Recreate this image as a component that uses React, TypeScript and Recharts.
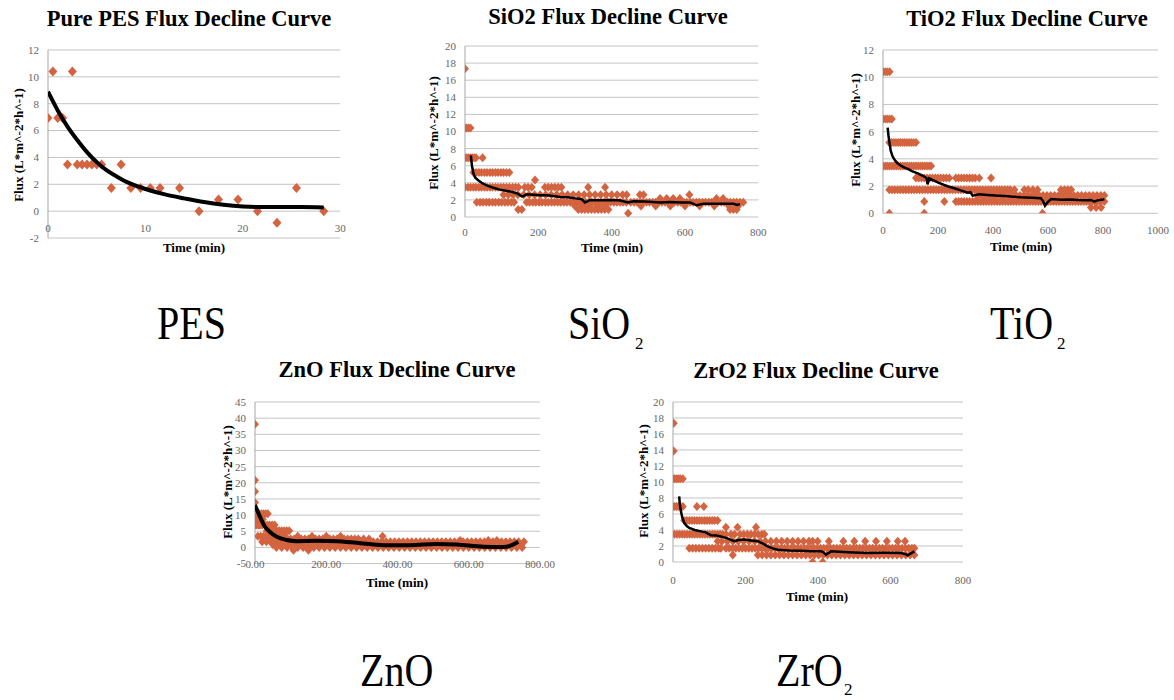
import { ScatterChart, Scatter, XAxis, YAxis, CartesianGrid } from 'recharts';

const DOT = '#d4633f';
const SERIF = '"Liberation Serif", "Times New Roman", serif';

type Band = { flux: number; times: number[] };

// ---------- Pure PES ----------
const pesTime = [0, 0.5, 1, 1.5, 2, 2.5, 3, 3.5, 4, 4.5, 5, 5.5, 6.5, 7.5, 8.5, 9.5, 10.5, 11.5, 13.5, 15.5, 17.5, 19.5, 21.5, 23.5, 25.5, 28.3];
const pesFlux = [6.93, 10.4, 6.93, 6.93, 3.47, 10.4, 3.47, 3.47, 3.47, 3.47, 3.47, 3.47, 1.73, 3.47, 1.73, 1.73, 1.73, 1.73, 1.73, 0, 0.87, 0.87, 0, -0.87, 1.73, 0];
const pesFitTime = [0, 1, 2, 3, 4, 5, 6, 7, 8, 9, 10, 12, 14, 16, 18, 20, 22, 24, 26, 28.3];
const pesFitFlux = [8.9, 7.5, 6.3, 5.3, 4.4, 3.65, 3.05, 2.6, 2.2, 1.9, 1.65, 1.25, 0.95, 0.68, 0.48, 0.35, 0.3, 0.3, 0.3, 0.28];
const pesXTicks = [0, 10, 20, 30];
const pesYTicks = [-2, 0, 2, 4, 6, 8, 10, 12];

// ---------- SiO2 ----------
const sio2Bands: Band[] = [
  { flux: 17.33, times: [0] },
  { flux: 10.4, times: [0, 5, 10, 15] },
  { flux: 6.93, times: [0, 5, 10, 15, 20, 25, 30, 48] },
  { flux: 5.2, times: [23, 30, 38, 45, 53, 60, 68, 75, 83, 90, 98, 105, 113, 121] },
  { flux: 4.33, times: [191] },
  { flux: 3.47, times: [0, 8, 15, 23, 30, 38, 45, 53, 60, 68, 75, 83, 90, 98, 105, 113, 121, 130, 138, 146, 163, 172, 182, 218, 227, 236, 245, 254, 263, 336, 382] },
  { flux: 2.6, times: [105, 118, 131, 144, 160, 175, 190, 205, 220, 235, 250, 265, 280, 295, 310, 325, 340, 355, 370, 385, 400, 415, 430, 441, 477, 487, 612] },
  { flux: 2.17, times: [532, 550, 568, 586, 686, 704] },
  { flux: 1.73, times: [32, 41, 49, 58, 66, 75, 83, 92, 100, 109, 117, 126, 134, 168, 176, 185, 193, 202, 210, 219, 227, 236, 244, 253, 261, 270, 278, 287, 295, 304, 312, 321, 329, 338, 346, 355, 363, 372, 380, 389, 397, 406, 414, 423, 431, 440, 452, 461, 469, 478, 486, 495, 503, 512, 520, 529, 537, 546, 554, 563, 571, 580, 588, 597, 605, 614, 622, 631, 639, 648, 656, 665, 673, 682, 690, 699, 707, 716, 724, 733, 741, 750, 759] },
  { flux: 1.3, times: [300, 320, 340, 360, 380, 480, 520, 560, 600, 640, 680, 720, 745] },
  { flux: 0.87, times: [145, 155, 309, 318, 327, 336, 345, 354, 363, 372, 381, 391, 723, 732, 741] },
  { flux: 0.43, times: [445] },
];
const sio2FitTime = [16, 19, 23, 28, 36, 47, 59, 75, 95, 115, 132, 145, 155, 160, 168, 185, 205, 223, 240, 259, 280, 305, 318, 327, 335, 341, 370, 395, 420, 445, 459, 490, 532, 560, 590, 614, 632, 650, 690, 732, 742, 750];
const sio2FitFlux = [7.2, 6.0, 5.1, 4.6, 4.3, 3.95, 3.7, 3.45, 3.2, 3.05, 2.9, 2.7, 2.4, 2.45, 2.65, 2.6, 2.55, 2.55, 2.45, 2.35, 2.3, 2.15, 2.1, 1.7, 1.85, 2.0, 1.95, 2.0, 1.95, 1.7, 1.85, 1.8, 1.7, 1.75, 1.7, 1.7, 1.37, 1.55, 1.55, 1.55, 1.4, 1.5];

// ---------- TiO2 ----------
const tio2Bands: Band[] = [
  { flux: 10.4, times: [0, 8, 16, 24] },
  { flux: 6.93, times: [0, 8, 16, 24, 32] },
  { flux: 5.2, times: [23, 31, 39, 47, 55, 63, 71, 79, 87, 95, 103, 111, 120] },
  { flux: 3.47, times: [0, 8, 16, 24, 32, 40, 48, 56, 64, 72, 80, 88, 96, 104, 112, 120, 128, 136, 144, 152, 160, 168, 175] },
  { flux: 2.6, times: [120, 130, 140, 150, 160, 170, 180, 190, 200, 210, 220, 230, 241, 265, 275, 285, 295, 305, 315, 325, 335, 350, 393] },
  { flux: 1.73, times: [23, 33, 43, 53, 63, 73, 83, 93, 103, 113, 123, 133, 143, 153, 163, 173, 183, 193, 203, 213, 223, 233, 243, 253, 263, 273, 283, 293, 303, 313, 323, 333, 343, 353, 363, 373, 383, 393, 403, 413, 423, 433, 443, 453, 463, 478, 514, 528, 545, 562, 647, 660, 672, 684] },
  { flux: 1.3, times: [344, 358, 372, 386, 400, 414, 428, 442, 456, 470, 484, 498, 512, 526, 540, 554, 568, 582, 596, 610, 624, 638, 652, 666, 680, 694, 708, 722, 736, 750, 764, 778, 792, 805] },
  { flux: 0.87, times: [150, 223, 265, 275, 285, 295, 305, 315, 325, 335, 345, 355, 365, 375, 385, 395, 405, 415, 425, 435, 445, 455, 465, 475, 485, 495, 505, 515, 525, 535, 545, 555, 565, 575, 590, 600, 610, 620, 630, 640, 650, 660, 670, 680, 690, 700, 710, 720, 730, 740, 750, 760, 770, 780, 790, 805] },
  { flux: 0.43, times: [756, 775, 793] },
  { flux: 0, times: [23, 150, 580] },
];
const tio2FitTime = [17, 20, 23, 28, 35, 45, 53, 65, 78, 90, 105, 126, 140, 150, 158, 162, 168, 180, 199, 220, 240, 259, 280, 308, 318, 326, 350, 381, 410, 440, 465, 500, 540, 574, 582, 589, 600, 611, 650, 680, 708, 740, 756, 768, 780, 805];
const tio2FitFlux = [6.3, 5.7, 5.27, 4.6, 4.17, 3.85, 3.68, 3.5, 3.35, 3.26, 3.1, 2.94, 2.8, 2.7, 2.6, 2.13, 2.57, 2.45, 2.28, 2.1, 1.95, 1.84, 1.7, 1.52, 1.55, 1.3, 1.4, 1.35, 1.3, 1.28, 1.23, 1.18, 1.15, 1.1, 0.9, 0.56, 0.85, 1.05, 1.0, 1.02, 0.98, 0.95, 0.98, 0.86, 0.95, 1.03];

// ---------- ZnO ----------
const znoBands: Band[] = [
  { flux: 38.1, times: [0] },
  { flux: 20.8, times: [0] },
  { flux: 17.3, times: [0] },
  { flux: 13.9, times: [0] },
  { flux: 10.4, times: [0, 6, 12, 18, 24, 30, 36] },
  { flux: 8.67, times: [2, 8, 22] },
  { flux: 6.93, times: [0, 5, 10, 14, 20, 27, 34, 41, 48, 55] },
  { flux: 5.2, times: [33, 40, 47, 54, 61, 68, 75, 82, 89, 96] },
  { flux: 3.47, times: [8, 16, 24, 32, 40, 48, 56, 64, 72, 85, 120, 160, 200, 240, 358] },
  { flux: 2.6, times: [80, 90, 100, 110, 120, 130, 140, 150, 160, 170, 180, 190, 200, 210, 220, 230, 240, 250, 260, 270, 280, 290, 305, 320] },
  { flux: 2.17, times: [576, 655, 679] },
  { flux: 1.73, times: [20, 32, 44, 56, 68, 80, 92, 104, 116, 128, 140, 152, 164, 176, 188, 200, 212, 224, 236, 248, 260, 272, 284, 296, 308, 320, 332, 344, 356, 368, 380, 392, 404, 416, 428, 440, 452, 464, 476, 488, 500, 512, 524, 536, 548, 560, 572, 584, 596, 608, 620, 632, 644, 656, 668, 680, 692, 704, 716, 728, 740, 755] },
  { flux: 0.87, times: [50, 62, 74, 86, 98, 110, 122, 134, 146, 158, 170, 182, 194, 206, 218, 230, 242, 254, 266, 278, 290, 302, 314, 326, 338, 350, 362, 374, 386, 398, 410, 422, 434, 446, 458, 470, 482, 494, 506, 518, 530, 542, 554, 566, 578, 590, 602, 614, 626, 638, 650, 662, 674, 686, 698, 710, 722, 734, 746] },
  { flux: 0, times: [60, 75, 90, 105, 120, 135, 150, 165, 180, 195, 210, 225, 240, 255, 270, 285, 300, 315, 330, 345, 360, 375, 390, 405, 420, 435, 450, 465, 480, 495, 510, 525, 540, 555, 570, 585, 600, 615, 630, 645, 660, 675, 690, 705, 720, 735, 750] },
  { flux: -0.87, times: [108, 150] },
];
const znoFitTime = [0, 14, 28, 42, 61, 89, 117, 173, 229, 285, 360, 435, 510, 566, 641, 697, 721, 739];
const znoFitFlux = [13.1, 9.5, 6.4, 4.8, 3.3, 2.3, 1.95, 2.05, 1.95, 1.45, 0.7, 0.7, 1.1, 0.9, 0.2, 0.1, 0.7, 1.75];

// ---------- ZrO2 ----------
const zro2Bands: Band[] = [
  { flux: 17.33, times: [2] },
  { flux: 13.86, times: [2] },
  { flux: 10.4, times: [0, 5, 10, 15, 20, 27] },
  { flux: 6.93, times: [0, 5, 10, 15, 20, 27, 66, 85] },
  { flux: 5.2, times: [31, 38, 45, 52, 59, 66, 73, 80, 87, 94, 101, 108, 115, 123] },
  { flux: 4.33, times: [146, 178, 229] },
  { flux: 3.47, times: [4, 11, 18, 25, 32, 39, 46, 53, 60, 67, 74, 81, 88, 95, 102, 109, 116, 123, 130, 137, 146, 160, 170, 185, 195, 205, 215, 225, 235, 245, 252] },
  { flux: 2.6, times: [123, 135, 150, 165, 180, 195, 210, 225, 240, 255, 270, 285, 300, 315, 330, 345, 360, 375, 385, 399, 430, 470, 500, 530, 560, 590, 620, 640] },
  { flux: 1.73, times: [45, 54, 63, 72, 81, 90, 99, 108, 117, 126, 132, 146, 155, 164, 173, 182, 191, 200, 209, 218, 227, 236, 245, 254, 263, 272, 281, 290, 299, 308, 317, 326, 335, 344, 353, 362, 371, 380, 389, 398, 407, 416, 425, 434, 443, 452, 461, 470, 479, 488, 497, 506, 515, 524, 533, 542, 551, 560, 569, 578, 587, 596, 605, 614, 623, 632, 641, 650, 659, 666] },
  { flux: 0.87, times: [165, 234, 246, 258, 270, 282, 294, 306, 318, 330, 342, 354, 366, 378, 390, 402, 414, 426, 438, 450, 462, 474, 486, 498, 510, 522, 534, 546, 558, 570, 582, 594, 606, 618, 630, 642, 654, 666] },
  { flux: 0, times: [385, 413] },
];
const zro2FitTime = [17, 19, 22, 26, 31, 38, 45, 60, 77, 90, 105, 120, 132, 150, 169, 180, 197, 215, 234, 248, 261, 275, 289, 320, 353, 380, 408, 415, 422, 436, 470, 500, 537, 580, 629, 640, 647, 655, 666];
const zro2FitFlux = [8.2, 7.2, 6.3, 5.5, 4.9, 4.5, 4.25, 4.0, 3.83, 3.7, 3.33, 3.3, 3.2, 2.95, 2.6, 2.75, 2.8, 2.7, 2.6, 2.3, 1.96, 1.7, 1.54, 1.45, 1.42, 1.35, 1.33, 1.2, 0.92, 1.33, 1.25, 1.2, 1.13, 1.15, 1.13, 1.0, 0.83, 1.05, 1.33];

const time800Ticks = [0, 200, 400, 600, 800];
const time1000Ticks = [0, 200, 400, 600, 800, 1000];
const flux20Ticks = [0, 2, 4, 6, 8, 10, 12, 14, 16, 18, 20];
const flux12Ticks = [0, 2, 4, 6, 8, 10, 12];
const flux45Ticks = [-5, 0, 5, 10, 15, 20, 25, 30, 35, 40, 45];

const zipPts = (xs: number[], ys: number[]) => xs.map((x, i) => ({ x, y: ys[i] }));
const bandPts = (bands: Band[]) => bands.flatMap((b) => b.times.map((t) => ({ x: t, y: b.flux })));

const makeDiamond = (hw: number, hh: number) => (props: any) => {
  const { cx, cy } = props;
  if (cx == null || cy == null) return <g />;
  return <path d={`M${cx},${cy - hh}L${cx + hw},${cy}L${cx},${cy + hh}L${cx - hw},${cy}Z`} fill={DOT} />;
};
const bigDiamond = makeDiamond(4.5, 5);
const smallDiamond = makeDiamond(4, 4.5);
const NoDot = () => <g />;

interface Box { L: number; T: number; R: number; B: number }

interface FluxChartProps {
  box: Box;
  points: { x: number; y: number }[];
  fit: { x: number; y: number }[];
  smooth?: boolean;
  fitWidth: number;
  xDomain: [number, number];
  xTicks: number[];
  yDomain: [number, number];
  yTicks: number[];
  xLabelDy: number;
  xDigits?: number;
  dot: (p: any) => any;
}

const FluxChart = ({ box, points, fit, smooth, fitWidth, xDomain, xTicks, yDomain, yTicks, xLabelDy, xDigits = 0, dot }: FluxChartProps) => {
  const { L, T, R, B } = box;
  const yW = 45;
  const pad = 10;
  const xH = 34;
  const rPad = 26;
  return (
    <div style={{ position: 'absolute', left: L - yW, top: T - pad }}>
      <ScatterChart width={R - L + yW + rPad} height={B - T + pad + xH} margin={{ top: pad, right: rPad, bottom: 0, left: 0 }}>
        <CartesianGrid vertical={false} stroke="#c4c4c4" />
        <XAxis
          type="number"
          dataKey="x"
          domain={xDomain}
          ticks={xTicks}
          interval={0}
          height={xH}
          axisLine={false}
          tickLine={false}
          tickSize={0}
          tickMargin={0}
          allowDataOverflow
          tick={(p: any) => (
            <text x={p.x} y={p.y + xLabelDy} textAnchor="middle" fill="#666" fontSize={11} fontFamily={SERIF}>
              {Number(p.payload.value).toFixed(xDigits)}
            </text>
          )}
        />
        <YAxis
          type="number"
          dataKey="y"
          domain={yDomain}
          ticks={yTicks}
          interval={0}
          width={yW}
          axisLine={{ stroke: '#a6a6a6' }}
          tickLine={false}
          tickSize={0}
          tickMargin={9}
          allowDataOverflow
          tick={{ fill: '#666', fontSize: 11, fontFamily: SERIF }}
        />
        <Scatter data={points} shape={dot} isAnimationActive={false} />
        <Scatter
          data={fit}
          shape={NoDot}
          line={{ stroke: '#000', strokeWidth: fitWidth }}
          lineJointType={smooth ? 'monotoneX' : 'linear'}
          isAnimationActive={false}
        />
      </ScatterChart>
    </div>
  );
};

const titles = [
  { text: 'Pure PES Flux Decline Curve', x: 189, y: 26, ylx: 18, yly: 145, tx: 194, ty: 252 },
  { text: 'SiO2 Flux Decline Curve', x: 608, y: 24, ylx: 433, yly: 133, tx: 612, ty: 252 },
  { text: 'TiO2 Flux Decline Curve', x: 1027, y: 26, ylx: 855, yly: 130, tx: 1021, ty: 251 },
  { text: 'ZnO Flux Decline Curve', x: 397, y: 377, ylx: 227, yly: 482, tx: 397, ty: 587 },
  { text: 'ZrO2 Flux Decline Curve', x: 816, y: 378, ylx: 643, yly: 481, tx: 817, ty: 601 },
];

const bigLabels = [
  { main: 'PES', x: 157, y: 339, sub: '', sx: 0, sy: 0 },
  { main: 'SiO', x: 568, y: 339, sub: '2', sx: 635, sy: 349 },
  { main: 'TiO', x: 990, y: 339, sub: '2', sx: 1057, sy: 349 },
  { main: 'ZnO', x: 360, y: 686, sub: '', sx: 0, sy: 0 },
  { main: 'ZrO', x: 776, y: 686, sub: '2', sx: 844, sy: 695 },
];

export default function App() {
  return (
    <div style={{ position: 'absolute', left: 0, top: 0, width: 1174, height: 700, background: '#fff', overflow: 'hidden' }}>
      <FluxChart
        box={{ L: 47.7, T: 50, R: 340, B: 238 }}
        points={zipPts(pesTime, pesFlux)}
        fit={zipPts(pesFitTime, pesFitFlux)}
        smooth
        fitWidth={4}
        xDomain={[0, 30]}
        xTicks={pesXTicks}
        yDomain={[-2, 12]}
        yTicks={pesYTicks}
        xLabelDy={-6}
        dot={bigDiamond}
      />
      <FluxChart
        box={{ L: 465, T: 45.7, R: 758.3, B: 216.7 }}
        points={bandPts(sio2Bands)}
        fit={zipPts(sio2FitTime, sio2FitFlux)}
        fitWidth={2.5}
        xDomain={[0, 800]}
        xTicks={time800Ticks}
        yDomain={[0, 20]}
        yTicks={flux20Ticks}
        xLabelDy={19}
        dot={smallDiamond}
      />
      <FluxChart
        box={{ L: 883.3, T: 50, R: 1158.3, B: 213.3 }}
        points={bandPts(tio2Bands)}
        fit={zipPts(tio2FitTime, tio2FitFlux)}
        fitWidth={2.5}
        xDomain={[0, 1000]}
        xTicks={time1000Ticks}
        yDomain={[0, 12]}
        yTicks={flux12Ticks}
        xLabelDy={20.5}
        dot={smallDiamond}
      />
      <FluxChart
        box={{ L: 255, T: 401.7, R: 540, B: 563.3 }}
        points={bandPts(znoBands)}
        fit={zipPts(znoFitTime, znoFitFlux)}
        smooth
        fitWidth={4}
        xDomain={[0, 800]}
        xTicks={time800Ticks}
        yDomain={[-5, 45]}
        yTicks={flux45Ticks}
        xLabelDy={4}
        xDigits={2}
        dot={smallDiamond}
      />
      <FluxChart
        box={{ L: 673.3, T: 402.3, R: 963.3, B: 562.3 }}
        points={bandPts(zro2Bands)}
        fit={zipPts(zro2FitTime, zro2FitFlux)}
        fitWidth={2.5}
        xDomain={[0, 800]}
        xTicks={time800Ticks}
        yDomain={[0, 20]}
        yTicks={flux20Ticks}
        xLabelDy={22}
        dot={smallDiamond}
      />
      <svg width={1174} height={700} style={{ position: 'absolute', left: 0, top: 0, pointerEvents: 'none' }}>
        {titles.map((t) => (
          <g key={t.text} fontFamily={SERIF} fontWeight="bold" fill="#000">
            <text x={t.x} y={t.y} textAnchor="middle" fontSize={22.5}>{t.text}</text>
            <text x={t.tx} y={t.ty} textAnchor="middle" fontSize={13}>Time (min)</text>
            <text transform={`translate(${t.ylx},${t.yly}) rotate(-90)`} textAnchor="middle" dominantBaseline="central" fontSize={13}>
              Flux (L*m^-2*h^-1)
            </text>
          </g>
        ))}
        {bigLabels.map((b) => (
          <g key={b.main} fontFamily={SERIF} fill="#000">
            <text transform={`translate(${b.x},${b.y}) scale(0.87,1)`} fontSize={46}>{b.main}</text>
            {b.sub && <text x={b.sx} y={b.sy} fontSize={17}>{b.sub}</text>}
          </g>
        ))}
      </svg>
    </div>
  );
}
